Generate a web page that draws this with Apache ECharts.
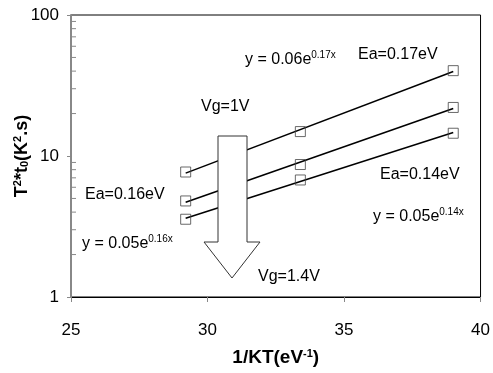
<!DOCTYPE html>
<html><head><meta charset="utf-8">
<script src="https://cdn.jsdelivr.net/npm/echarts@6/dist/echarts.min.js"></script>
<style>html,body{margin:0;padding:0;background:#fff}#c{width:493px;height:373px}</style>
</head><body><div id="c"></div>
<script>
const xValues = [29.2, 33.4, 39.0];
const seriesVg1 = [7.7, 14.9, 40.3];
const seriesVgMid = [4.8, 8.7, 22.1];
const seriesVg14 = [3.56, 6.76, 14.5];
const xTicks = [25, 30, 35, 40];
const yTicks = [1, 10, 100];
const minorTickValues = [2,3,4,5,6,7,8,9,20,30,40,50,60,70,80,90];

const F = '"Liberation Sans", Arial, sans-serif';
function fit(xs, ys) {
  const n = xs.length; let sx=0, sy=0, sxx=0, sxy=0;
  for (let i=0;i<n;i++){const l=Math.log(ys[i]); sx+=xs[i]; sy+=l; sxx+=xs[i]*xs[i]; sxy+=xs[i]*l;}
  const b=(n*sxy-sx*sy)/(n*sxx-sx*sx); const a=(sy-b*sx)/n;
  const x0=Math.min(...xs), x1=Math.max(...xs);
  return [[x0, Math.exp(a+b*x0)], [x1, Math.exp(a+b*x1)]];
}
const all = [seriesVg1, seriesVgMid, seriesVg14];
const series = [];
all.forEach(s => {
  series.push({type:'line', data: fit(xValues, s), showSymbol:false, symbol:'none',
    lineStyle:{color:'#000', width:1.5}, z:2, silent:true});
});
all.forEach(s => {
  series.push({type:'scatter', data: xValues.map((x,i)=>[x,s[i]]), symbol:'rect', symbolSize:10,
    itemStyle:{color:'rgba(0,0,0,0)', borderColor:'#444', borderWidth:1}, z:3});
});

const chart = echarts.init(document.getElementById('c'));
chart.setOption({
  animation:false,
  grid:{left:71, top:15, right:10, bottom:76, show:true, borderColor:'#000', borderWidth:1, backgroundColor:'transparent'},
  xAxis:{type:'value', min:xTicks[0], max:xTicks[xTicks.length-1], interval:5,
    axisLine:{lineStyle:{color:'#000', width:1}}, axisTick:{length:5, lineStyle:{color:'#888'}},
    splitLine:{show:false},
    axisLabel:{margin:25, color:'#000', fontSize:17, fontFamily:F},
    name:'{b|1/KT(eV}{sup|-1}{b|)}', nameLocation:'middle', nameGap:51,
    nameTextStyle:{rich:{
      b:{fontSize:19, fontWeight:'bold', fontFamily:F, color:'#000'},
      sup:{fontSize:11, fontWeight:'bold', fontFamily:F, color:'#000', padding:[0,0,9,0]}
    }}
  },
  yAxis:{type:'log', logBase:10, min:yTicks[0], max:yTicks[yTicks.length-1],
    axisLine:{show:true, lineStyle:{color:'#888', width:2}}, axisTick:{length:4, lineStyle:{color:'#888'}},
    splitLine:{show:false},
    axisLabel:{margin:12, color:'#000', fontSize:17, fontFamily:F}
  },
  series: series
});

function drawExtras(){
  const g = [];
  const axisX = chart.convertToPixel({xAxisIndex:0}, 25);
  minorTickValues.forEach(v => {
    const y = chart.convertToPixel({yAxisIndex:0}, v);
    g.push({type:'line', shape:{x1:axisX, y1:y, x2:axisX+5, y2:y}, style:{stroke:'#888', lineWidth:1}, z:10});
  });
  // y axis title
  const yMid = (chart.convertToPixel({yAxisIndex:0}, 1) + chart.convertToPixel({yAxisIndex:0}, 100)) / 2;
  g.push({type:'text', x:22, y:yMid, rotation:Math.PI/2, z:30,
    style:{text:'{b|T}{sup|2}{b|*t}{sub|0}{b|(K}{sup|2}{b|.s)}', align:'center', verticalAlign:'middle',
      rich:{
        b:{fontSize:18, fontWeight:'bold', fontFamily:F, fill:'#000'},
        sup:{fontSize:11, fontWeight:'bold', fontFamily:F, fill:'#000', padding:[0,0,9,0]},
        sub:{fontSize:11, fontWeight:'bold', fontFamily:F, fill:'#000', padding:[5,0,0,0]}
      }}});
  // big arrow annotation
  const pts = [[218,136],[247,136],[247,242],[260,242],[232,278],[204,242],[218,242]];
  g.push({type:'polygon', shape:{points:pts}, style:{fill:'#fff', stroke:'#333', lineWidth:1}, z:20});
  const txt = (x,y,t,rich)=>({type:'text', x:x, y:y, z:30, style:{text:t, fontSize:16, fontFamily:F, fill:'#000', textVerticalAlign:'middle', rich:rich}});
  const rich = {n:{fontSize:16, fontFamily:F, fill:'#000'}, s:{fontSize:10, fontFamily:F, fill:'#000', padding:[0,0,9,0]}};
  g.push(txt(245,60,'{n|y = 0.06e}{s|0.17x}',rich));
  g.push(txt(358,55,'Ea=0.17eV'));
  g.push(txt(201,107,'Vg=1V'));
  g.push(txt(85,195,'Ea=0.16eV'));
  g.push(txt(82,244,'{n|y = 0.05e}{s|0.16x}',rich));
  g.push(txt(380,175,'Ea=0.14eV'));
  g.push(txt(373,217,'{n|y = 0.05e}{s|0.14x}',rich));
  g.push(txt(258,277,'Vg=1.4V'));
  chart.setOption({graphic:g});
}
drawExtras();
</script></body></html>
